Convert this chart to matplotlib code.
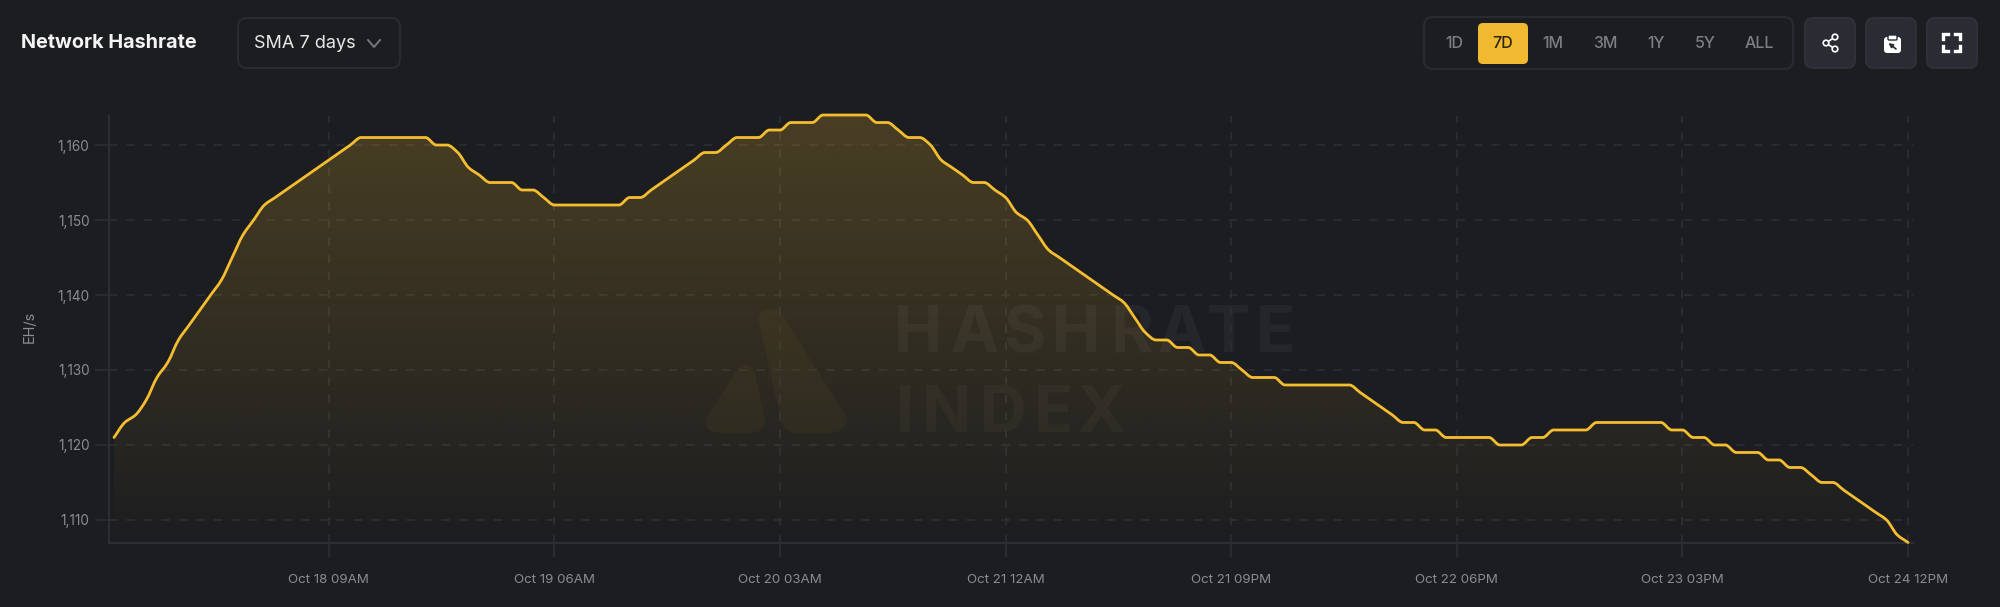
import matplotlib
matplotlib.use("Agg")
import matplotlib.dates as mdates
import matplotlib.pyplot as plt
import numpy as np
import pandas as pd
from matplotlib.patches import FancyBboxPatch, PathPatch, Circle
from matplotlib.path import Path

plt.rcParams["font.family"] = ["Inter", "DejaVu Sans"]

# hourly values (EH/s)
hashrate = [
    1121, 1123, 1124, 1126, 1129, 1131, 1134, 1136, 1138, 1140, 1142, 1145,
    1148, 1150, 1152, 1153, 1154, 1155, 1156, 1157, 1158, 1159, 1160, 1161,
    1161, 1161, 1161, 1161, 1161, 1161, 1160, 1160, 1159, 1157, 1156, 1155,
    1155, 1155, 1154, 1154, 1153, 1152, 1152, 1152, 1152, 1152, 1152, 1152,
    1153, 1153, 1154, 1155, 1156, 1157, 1158, 1159, 1159, 1160, 1161, 1161,
    1161, 1162, 1162, 1163, 1163, 1163, 1164, 1164, 1164, 1164, 1164, 1163,
    1163, 1162, 1161, 1161, 1160, 1158, 1157, 1156, 1155, 1155, 1154, 1153,
    1151, 1150, 1148, 1146, 1145, 1144, 1143, 1142, 1141, 1140, 1139, 1137,
    1135, 1134, 1134, 1133, 1133, 1132, 1132, 1131, 1131, 1130, 1129, 1129,
    1129, 1128, 1128, 1128, 1128, 1128, 1128, 1128, 1127, 1126, 1125, 1124,
    1123, 1123, 1122, 1122, 1121, 1121, 1121, 1121, 1121, 1120, 1120, 1120,
    1121, 1121, 1122, 1122, 1122, 1122, 1123, 1123, 1123, 1123, 1123, 1123,
    1123, 1122, 1122, 1121, 1121, 1120, 1120, 1119, 1119, 1119, 1118, 1118,
    1117, 1117, 1116, 1115, 1115, 1114, 1113, 1112, 1111, 1110, 1108, 1107,
]
start_time = "2025-10-17 13:00"
tick_times = ["2025-10-18 09:00", "2025-10-19 06:00", "2025-10-20 03:00", "2025-10-21 00:00",
              "2025-10-21 21:00", "2025-10-22 18:00", "2025-10-23 15:00", "2025-10-24 12:00"]
y_ticks = [1110, 1120, 1130, 1140, 1150, 1160]
range_labels = ["1D", "7D", "1M", "3M", "1Y", "5Y", "ALL"]

BG = "#1c1d20"
GOLD = "#f5bd30"
GRID = "#2d2e33"
TICK = "#8b8c92"


def monotone_path(xs, ys):
    # monotone cubic through the points, as bezier segments
    xs = np.asarray(xs, dtype=float)
    ys = np.asarray(ys, dtype=float)
    h = np.diff(xs)
    d = np.diff(ys) / h
    m = np.zeros(len(xs))
    for i in range(1, len(xs) - 1):
        if d[i - 1] * d[i] > 0:
            m[i] = 2 * d[i - 1] * d[i] / (d[i - 1] + d[i])
    m[0] = d[0]
    m[-1] = d[-1]
    verts = [(xs[0], ys[0])]
    codes = [Path.MOVETO]
    for i in range(len(xs) - 1):
        verts.append((xs[i] + h[i] / 3, ys[i] + m[i] * h[i] / 3))
        verts.append((xs[i + 1] - h[i] / 3, ys[i + 1] - m[i + 1] * h[i] / 3))
        verts.append((xs[i + 1], ys[i + 1]))
        codes += [Path.CURVE4] * 3
    return verts, codes


def rounded_polygon(pts, r=7):
    # polygon with its corners cut by quadratic curves
    pts = np.asarray(pts, dtype=float)
    n = len(pts)
    verts = []
    codes = []
    for i in range(n):
        p = pts[i]
        a = pts[i - 1] - p
        b = pts[(i + 1) % n] - p
        p0 = p + a / np.linalg.norm(a) * min(r, np.linalg.norm(a) / 2)
        p1 = p + b / np.linalg.norm(b) * min(r, np.linalg.norm(b) / 2)
        verts += [p0, p, p1]
        codes += [Path.MOVETO if i == 0 else Path.LINETO, Path.CURVE3, Path.CURVE3]
    verts.append(verts[0])
    codes.append(Path.CLOSEPOLY)
    return Path(verts, codes)


W, H = 2000, 607
fig = plt.figure(figsize=(W / 100, H / 100), dpi=100, facecolor=BG)

# page furniture, drawn in pixel coordinates
bg = fig.add_axes([0, 0, 1, 1], zorder=0)
bg.set_xlim(0, W)
bg.set_ylim(H, 0)
bg.axis("off")


def box(x0, y0, x1, y1, r, face="none", edge="none", lw=1.5):
    bg.add_patch(FancyBboxPatch((x0 + r, y0 + r), x1 - x0 - 2 * r, y1 - y0 - 2 * r,
                                boxstyle="round,pad=%d,rounding_size=%d" % (r, r),
                                fc=face, ec=edge, lw=lw))


bg.text(21, 43, "Network Hashrate", color="#f4f4f5", fontsize=14.3, fontweight="bold", va="center")
box(238, 18, 400, 68, 9, edge="#2a2b30")
bg.text(254, 43, "SMA 7 days", color="#e8e8ea", fontsize=13, va="center")
bg.plot([368, 374, 380], [40, 47, 40], color="#77787e", lw=1.4)

box(1424, 17, 1793, 69, 9, edge="#2a2b30")
box(1478, 23, 1528, 64, 5, face="#f0b92f")
for label, cx in zip(range_labels, [1454, 1503, 1553, 1605, 1656, 1705, 1759]):
    bg.text(cx, 43, label, color="#2a2208" if label == "7D" else "#7d7e86", fontsize=11.5,
            fontweight="medium", ha="center", va="center")
for x0 in [1805, 1866, 1927]:
    box(x0, 18, x0 + 50, 68, 8, face="#2b2c33", edge="#303138")

# share icon
bg.plot([1835, 1826, 1835], [37, 43, 49], color="white", lw=1.2)
for cx, cy in [(1835, 37), (1826, 43), (1835, 49)]:
    bg.add_patch(Circle((cx, cy), 2.8, fc="#2b2c33", ec="white", lw=1.2, zorder=3))
# clipboard icon
box(1884, 37, 1901, 53, 3, face="white")
box(1888, 35, 1897, 40, 1, face="white", edge="#2b2c33", lw=1)
bg.annotate("", xy=(1888.5, 43), xytext=(1896, 49),
            arrowprops=dict(arrowstyle="-|>", color="#2b2c33", lw=1.2, mutation_scale=6, shrinkA=0, shrinkB=0))
# fullscreen icon
for sx, sy, dx, dy in [(1943, 34, 1, 1), (1960, 34, -1, 1), (1943, 51, 1, -1), (1960, 51, -1, -1)]:
    bg.plot([sx, sx, sx + 5 * dx], [sy + 5 * dy, sy, sy], color="white", lw=2.4, solid_joinstyle="miter")

# watermark
for ch, cx in zip("HASHRATE", [601, 726, 838, 955, 1080, 1190, 1295, 1400]):
    bg.text(650 + cx / 2.24, 329, ch, color="white", alpha=0.045, fontsize=46.5, fontweight="bold",
            ha="center", va="center_baseline")
for ch, cx in zip("INDEX", [570, 664, 790, 904, 1011]):
    bg.text(650 + cx / 2.24, 409, ch, color="white", alpha=0.03, fontsize=46.5, fontweight="bold",
            ha="center", va="center_baseline")
logo_right = [(240, 100), (285, 82), (445, 420), (425, 458), (310, 458), (295, 430)]
logo_left = [(205, 250), (120, 425), (135, 458), (245, 458), (260, 430), (232, 262)]
for pts in [logo_right, logo_left]:
    outline = rounded_polygon([(650 + a / 2.24, 280 + b / 3) for a, b in pts])
    bg.add_patch(PathPatch(outline, fc="#f5bd30", ec="none", alpha=0.04))

# chart
times = pd.date_range(start_time, periods=len(hashrate), freq="h")
x = mdates.date2num(times)
tick_x = mdates.date2num(pd.to_datetime(tick_times))
labels = [t.strftime("%b %d %I%p") for t in pd.to_datetime(tick_times)]

L, R, T, B = 109, 1913, 116, 543
ax = fig.add_axes([L / W, 1 - B / H, (R - L) / W, (B - T) / H], zorder=1)
ax.patch.set_alpha(0)
hour = x[1] - x[0]
ax.set_xlim(x[0] - 0.465 * hour, x[-1] + 0.46 * hour)
ax.set_ylim(1106.93, 1163.87)

for s in ["top", "right"]:
    ax.spines[s].set_visible(False)
for s in ["left", "bottom"]:
    ax.spines[s].set_color(GRID)
    ax.spines[s].set_linewidth(1.6)

ax.set_xticks(tick_x)
ax.set_xticklabels(labels)
ax.set_yticks(y_ticks)
ax.set_yticklabels(["{:,}".format(v) for v in y_ticks])
ax.tick_params(axis="x", length=10, width=1.2, color=GRID, labelcolor=TICK, labelsize=9.6, pad=12)
ax.tick_params(axis="y", length=10, width=1.2, color=GRID, labelcolor=TICK, labelsize=9.8, pad=4)
ax.grid(True, color=GRID, lw=1.2, linestyle=(0, (5, 5.5)))
ax.set_axisbelow(True)
fig.text(30 / W, 1 - 327 / H, "EH/s", color=TICK, fontsize=10.5, rotation=90, ha="center", va="center", zorder=3)

verts, codes = monotone_path(x, hashrate)

# area under the line, gold fading out downwards
area = Path(verts + [(x[-1], 1106.93), (x[0], 1106.93), (x[0], hashrate[0])],
            codes + [Path.LINETO, Path.LINETO, Path.LINETO])
grad = np.zeros((256, 1, 4))
grad[..., 0] = 245 / 255
grad[..., 1] = 189 / 255
grad[..., 2] = 48 / 255
grad[:, 0, 3] = np.linspace(0.21, 0.005, 256)
im = ax.imshow(grad, extent=[ax.get_xlim()[0], ax.get_xlim()[1], 1106.93, 1163.87], origin="upper",
               aspect="auto", zorder=1.5)
im.set_clip_path(PathPatch(area, transform=ax.transData))
ax.set_xlim(x[0] - 0.465 * hour, x[-1] + 0.46 * hour)
ax.set_ylim(1106.93, 1163.87)

ax.add_patch(PathPatch(Path(verts, codes), fc="none", ec=GOLD, lw=2.0, zorder=3, clip_on=False, capstyle="round"))

fig.savefig("out.png", dpi=100, facecolor=BG)
